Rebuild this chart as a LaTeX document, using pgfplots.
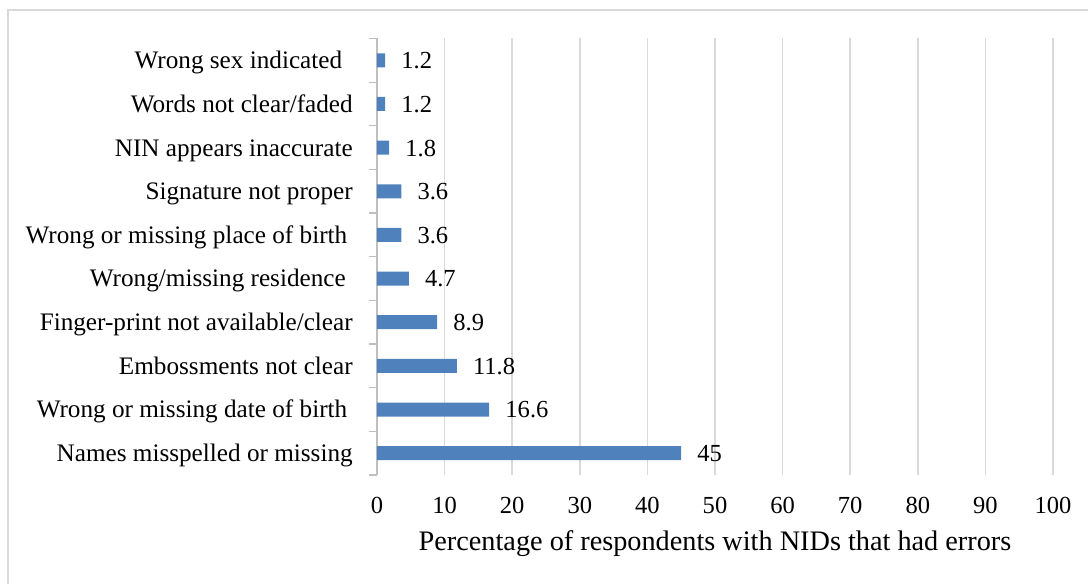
\documentclass[border=0pt]{standalone}
\usepackage{fontspec}
\setmainfont{Liberation Serif}
\usepackage{pgfplots}
\usepackage{pgfplotstable}
\pgfplotsset{compat=1.18}
\definecolor{barblue}{HTML}{4F81BD}
\definecolor{gridgray}{HTML}{D9D9D9}
\definecolor{axisgray}{HTML}{BFBFBF}
\newcommand{\chartfont}{\fontsize{18.4}{22}\selectfont}
\newcommand{\catfont}{\fontsize{18.9}{23}\selectfont}
\newcommand{\titlefont}{\fontsize{21.2}{25}\selectfont}

% Share of respondents whose NID showed each kind of error
\pgfplotstableread{
pos value label
0   45    45
1   16.6  16.6
2   11.8  11.8
3   8.9   8.9
4   4.7   4.7
5   3.6   3.6
6   3.6   3.6
7   1.8   1.8
8   1.2   1.2
9   1.2   1.2
}\errdata

\begin{document}
\begin{tikzpicture}
\useasboundingbox (-282.75pt,-81pt) rectangle (533.25pt,356.25pt);
% chart area frame
\draw[gridgray, line width=1.5pt] (-277.1pt,-90pt) -- (-277.1pt,349.1pt) -- (545pt,349.1pt);
\begin{axis}[
  at={(0,0)}, anchor=south west,
  scale only axis, width=507pt, height=327.4pt,
  xbar, bar width=10.5pt,
  xmin=0, xmax=100, ymin=-0.5, ymax=9.5,
  axis x line*=bottom, axis y line*=left,
  x axis line style={draw=none},
  y axis line style={axisgray, line width=0.9pt},
  xtick={0,10,...,100},
  ytick={0,...,9},
  minor ytick={-0.5,0.5,...,9.5},
  yticklabels={Names misspelled or missing, Wrong or missing date of birth\kern4.1pt, Embossments not clear, Finger-print not available/clear, Wrong/missing residence\kern5.2pt, Wrong or missing place of birth\kern4.1pt, Signature not proper, NIN appears inaccurate, Words not clear/faded, Wrong sex indicated\kern7.9pt},
  tick align=outside,
  major tick length=0pt,
  minor tick length=6pt,
  minor tick style={axisgray, line width=0.9pt},
  xmajorgrids,
  major x grid style={gridgray, line width=1.1pt},
  /pgf/number format/assume math mode=true,
  xticklabel style={font=\chartfont, anchor=base, inner sep=0pt, yshift=-28.5pt},
  yticklabel style={font=\catfont, anchor=base east, inner sep=0pt, xshift=-18pt, yshift=-6.3pt},
  xlabel={Percentage of respondents with NIDs that had errors},
  xlabel style={font=\titlefont, at={(axis description cs:0.5,0)}, anchor=base, inner sep=0pt, yshift=-56.25pt},
  nodes near coords,
  point meta=explicit symbolic,
  nodes near coords style={font=\chartfont, anchor=base west, inner sep=0pt, xshift=12pt, yshift=-6.3pt},
]
\addplot[fill=barblue, draw=none] table[x=value, y=pos, meta=label] {\errdata};
\end{axis}
\end{tikzpicture}
\end{document}
